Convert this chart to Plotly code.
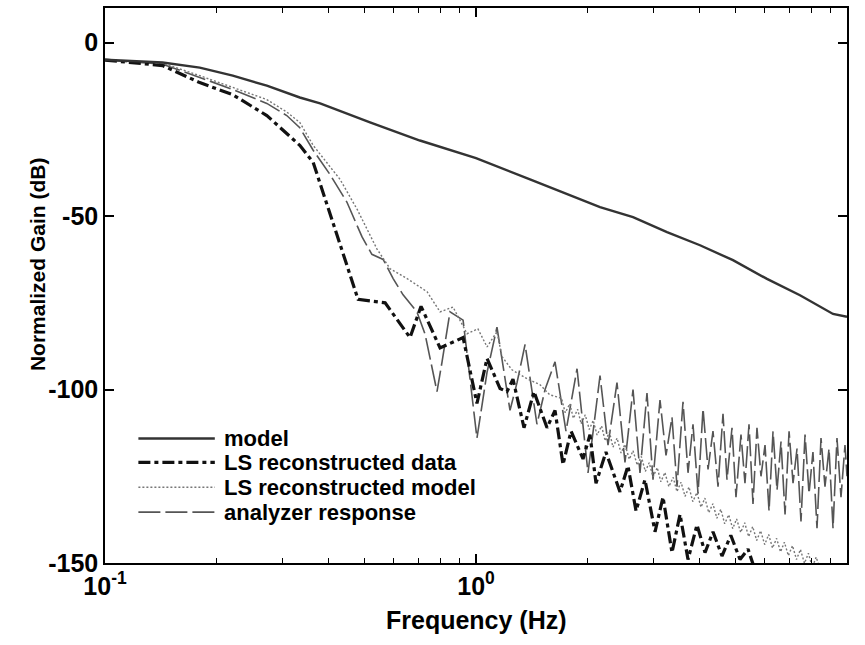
import plotly.graph_objects as go

# ---------------- data ----------------
model_freq = [0.1, 0.143, 0.180, 0.221, 0.273, 0.335, 0.380, 0.518, 0.706, 1.0,
              1.398, 2.159, 2.650, 3.272, 4.016, 4.928, 6.086, 7.469, 9.169, 10.0]
model_db = [-4.9, -5.7, -7.2, -9.5, -12.4, -15.8, -17.5, -23.0, -28.2, -33.3,
            -39.4, -47.4, -50.3, -54.6, -58.4, -62.7, -68.1, -72.8, -78.2, -79.0]

data_freq = [0.1, 0.143, 0.180, 0.221, 0.273, 0.335, 0.364, 0.481, 0.569, 0.664,
             0.711, 0.800, 0.923, 1.006, 1.071, 1.161, 1.212, 1.258, 1.347, 1.433,
             1.554, 1.633, 1.716, 1.804, 1.943, 2.029, 2.106, 2.240, 2.444, 2.568,
             2.700, 2.854, 3.038, 3.192, 3.375, 3.548, 3.728, 3.942, 4.143, 4.353,
             4.603, 4.862, 5.147, 5.410, 5.649]
data_db = [-5.0, -6.6, -11.5, -15.0, -21.0, -29.6, -34.5, -74.0, -75.0, -85.0,
           -76.0, -88.0, -85.0, -104.0, -91.0, -99.7, -100.6, -97.0, -111.0, -100.6,
           -111.0, -106.0, -121.6, -112.0, -120.0, -113.0, -127.0, -118.0, -129.5, -122.0,
           -135.0, -126.0, -141.0, -131.0, -147.0, -136.0, -149.0, -139.0, -147.0, -141.0,
           -148.0, -142.0, -149.0, -146.0, -152.0]

lsm_freq_low = [0.1, 0.143, 0.180, 0.221, 0.273, 0.309, 0.335, 0.364, 0.430, 0.478,
                0.541, 0.587, 0.652, 0.738, 0.800, 0.867, 0.946, 1.012, 1.071, 1.139,
                1.175, 1.250, 1.373, 1.488, 1.58]
lsm_db_low = [-5.0, -5.9, -9.5, -12.9, -16.4, -20.0, -23.0, -29.6, -39.4, -48.0,
              -59.5, -65.2, -68.0, -71.8, -77.6, -76.2, -83.9, -82.5, -87.7, -83.3,
              -90.5, -94.3, -96.9, -98.6, -101.5]
lsm_freq_band = [1.70, 1.74, 1.79, 1.83, 1.88, 1.92, 1.97, 2.02, 2.07, 2.12,
                 2.18, 2.23, 2.29, 2.34, 2.40, 2.46, 2.52, 2.59, 2.65, 2.72,
                 2.79, 2.86, 2.93, 3.00, 3.08, 3.15, 3.23, 3.31, 3.40, 3.48,
                 3.57, 3.66, 3.75, 3.84, 3.94, 4.04, 4.14, 4.24, 4.35, 4.46,
                 4.57, 4.68, 4.80, 4.92, 5.04, 5.17, 5.30, 5.43, 5.57, 5.71,
                 5.85, 6.00, 6.15, 6.30, 6.46, 6.62, 6.78, 6.95, 7.13, 7.31,
                 7.49, 7.68, 7.87, 8.06, 8.26, 8.47]
lsm_db_band = [-102.5, -106.7, -104.1, -108.3, -105.7, -109.9, -107.3, -111.5, -108.9, -113.1,
               -110.5, -114.8, -112.3, -116.6, -114.0, -118.3, -115.8, -120.1, -117.6, -121.8,
               -119.3, -123.6, -121.1, -125.2, -122.5, -126.6, -123.9, -128.0, -125.3, -129.4,
               -126.7, -130.8, -128.1, -132.3, -129.7, -133.9, -131.3, -135.5, -132.9, -137.1,
               -134.5, -138.7, -136.1, -140.1, -137.3, -141.2, -138.4, -142.4, -139.5, -143.5,
               -140.7, -144.7, -141.8, -145.7, -142.9, -146.8, -144.0, -147.9, -145.0, -149.0,
               -146.1, -150.1, -147.2, -151.2, -148.3, -152.0]

an_freq = [0.1, 0.143, 0.180, 0.221, 0.273, 0.309, 0.335, 0.364, 0.404, 0.449,
           0.493, 0.524, 0.562, 0.598, 0.636, 0.693, 0.729, 0.785, 0.810, 0.851,
           0.923, 1.006, 1.071, 1.139, 1.235, 1.290, 1.356, 1.460, 1.535, 1.633,
           1.748, 1.872, 2.004, 2.159, 2.269, 2.399, 2.521, 2.650, 2.767, 2.890,
           3.000, 3.133, 3.252, 3.375, 3.482, 3.614, 3.728, 3.845, 3.967, 4.092,
           4.221, 4.353, 4.491, 4.632, 4.748, 4.898, 5.021, 5.179, 5.309, 5.443,
           5.580, 5.719, 5.864, 6.012, 6.164, 6.318, 6.477, 6.640, 6.808, 6.980,
           7.154, 7.334, 7.516, 7.707, 7.901, 8.095, 8.301, 8.510, 8.723, 8.944,
           9.169, 9.397, 9.634, 9.876, 10.0]
an_db = [-5.0, -6.2, -10.0, -13.5, -17.5, -21.0, -24.5, -31.0, -38.0, -46.0,
         -56.0, -61.0, -62.5, -68.0, -72.7, -77.6, -84.0, -100.6, -92.0, -77.6,
         -80.0, -114.0, -95.0, -82.0, -106.0, -98.0, -87.0, -110.0, -100.0, -92.0,
         -112.0, -94.0, -124.0, -96.0, -116.0, -98.0, -121.0, -100.0, -124.0, -101.0,
         -126.0, -103.0, -119.0, -108.0, -128.0, -103.5, -124.0, -110.0, -130.0, -105.5,
         -123.0, -112.0, -128.0, -107.0, -126.0, -111.0, -131.0, -113.0, -127.0, -110.0,
         -133.0, -111.0, -125.0, -116.0, -135.0, -112.0, -129.0, -115.0, -136.0, -112.0,
         -127.0, -117.0, -138.0, -113.0, -130.0, -118.0, -140.0, -114.0, -128.0, -117.0,
         -140.0, -114.0, -131.0, -116.0, -125.0]

series_names = ["model", "LS reconstructed data", "LS reconstructed model", "analyzer response"]
x_tick_vals = [0.1, 1, 10]
x_tick_text = ["10<sup>-1</sup>", "10<sup>0</sup>", "10<sup>1</sup>"]
y_tick_vals = [-150, -100, -50, 0]
y_tick_text = ["-150", "-100", "-50", "0"]
minor_vals = [0.2, 0.3, 0.4, 0.5, 0.6, 0.7, 0.8, 0.9, 2, 3, 4, 5, 6, 7, 8, 9]
x_title = "Frequency (Hz)"
y_title = "Normalized Gain (dB)"

# ---------------- styles ----------------
FONT = "Liberation Sans, Arial, sans-serif"
styles = [
    dict(color="#333333", width=2.4, dash="solid"),
    dict(color="#111111", width=3.2, dash="12px,4px,4px,4px"),
    dict(color="#777777", width=1.4, dash="2px,2px"),
    dict(color="#555555", width=1.6, dash="22px,5px"),
]

fig = go.Figure()
fig.add_trace(go.Scatter(x=an_freq, y=an_db, mode="lines", line=styles[3],
                         name=series_names[3], showlegend=False))
fig.add_trace(go.Scatter(x=lsm_freq_low + lsm_freq_band, y=lsm_db_low + lsm_db_band,
                         mode="lines", line=styles[2], name=series_names[2], showlegend=False))
fig.add_trace(go.Scatter(x=data_freq, y=data_db, mode="lines", line=styles[1],
                         name=series_names[1], showlegend=False))
fig.add_trace(go.Scatter(x=model_freq, y=model_db, mode="lines", line=styles[0],
                         name=series_names[0], showlegend=False))

# manual legend (line samples + labels) inside lower-left of the plot
leg_y = [0.2244, 0.1813, 0.1364, 0.0916]
shapes = []
annotations = []
for i, name in enumerate(series_names):
    shapes.append(dict(type="line", xref="paper", yref="paper",
                       x0=0.045, x1=0.148, y0=leg_y[i], y1=leg_y[i],
                       line=dict(color=styles[i]["color"], width=styles[i]["width"],
                                 dash=styles[i]["dash"])))
    annotations.append(dict(xref="paper", yref="paper", x=0.158, y=leg_y[i],
                            xanchor="left", yanchor="middle", showarrow=False,
                            text=name, font=dict(family=FONT, size=22, color="black",
                                                 weight="bold")))

# axis titles as positioned annotations
annotations.append(dict(xref="paper", yref="paper", x=0.5, y=-0.1023,
                        xanchor="center", yanchor="middle", showarrow=False,
                        text=x_title, font=dict(family=FONT, size=25, color="black",
                                                weight="bold")))
annotations.append(dict(xref="paper", yref="paper", x=-0.0916, y=0.5386,
                        xanchor="center", yanchor="middle", showarrow=False,
                        textangle=-90, text=y_title,
                        font=dict(family=FONT, size=21, color="black", weight="bold")))

fig.update_layout(
    width=865, height=645,
    margin=dict(l=105, r=18, t=6, b=82),
    paper_bgcolor="white", plot_bgcolor="white",
    showlegend=False,
    shapes=shapes, annotations=annotations,
    font=dict(family=FONT, color="black"),
)
fig.update_xaxes(
    type="log", range=[-1, 1],
    tickvals=x_tick_vals, ticktext=x_tick_text,
    ticks="inside", ticklen=9, tickwidth=1.5, tickcolor="black",
    minor=dict(ticks="inside", ticklen=5, tickwidth=1.2, tickvals=minor_vals,
               tickcolor="black"),
    showline=True, linecolor="black", linewidth=1.5, mirror="allticks",
    showgrid=False, zeroline=False,
    tickfont=dict(family=FONT, size=25, weight="bold"),
)
fig.update_yaxes(
    range=[-150, 10],
    tickvals=y_tick_vals, ticktext=y_tick_text,
    ticks="inside", ticklen=9, tickwidth=1.5, tickcolor="black",
    showline=True, linecolor="black", linewidth=1.5, mirror="allticks",
    showgrid=False, zeroline=False,
    tickfont=dict(family=FONT, size=25, weight="bold"),
)

fig.write_html("out.html")
